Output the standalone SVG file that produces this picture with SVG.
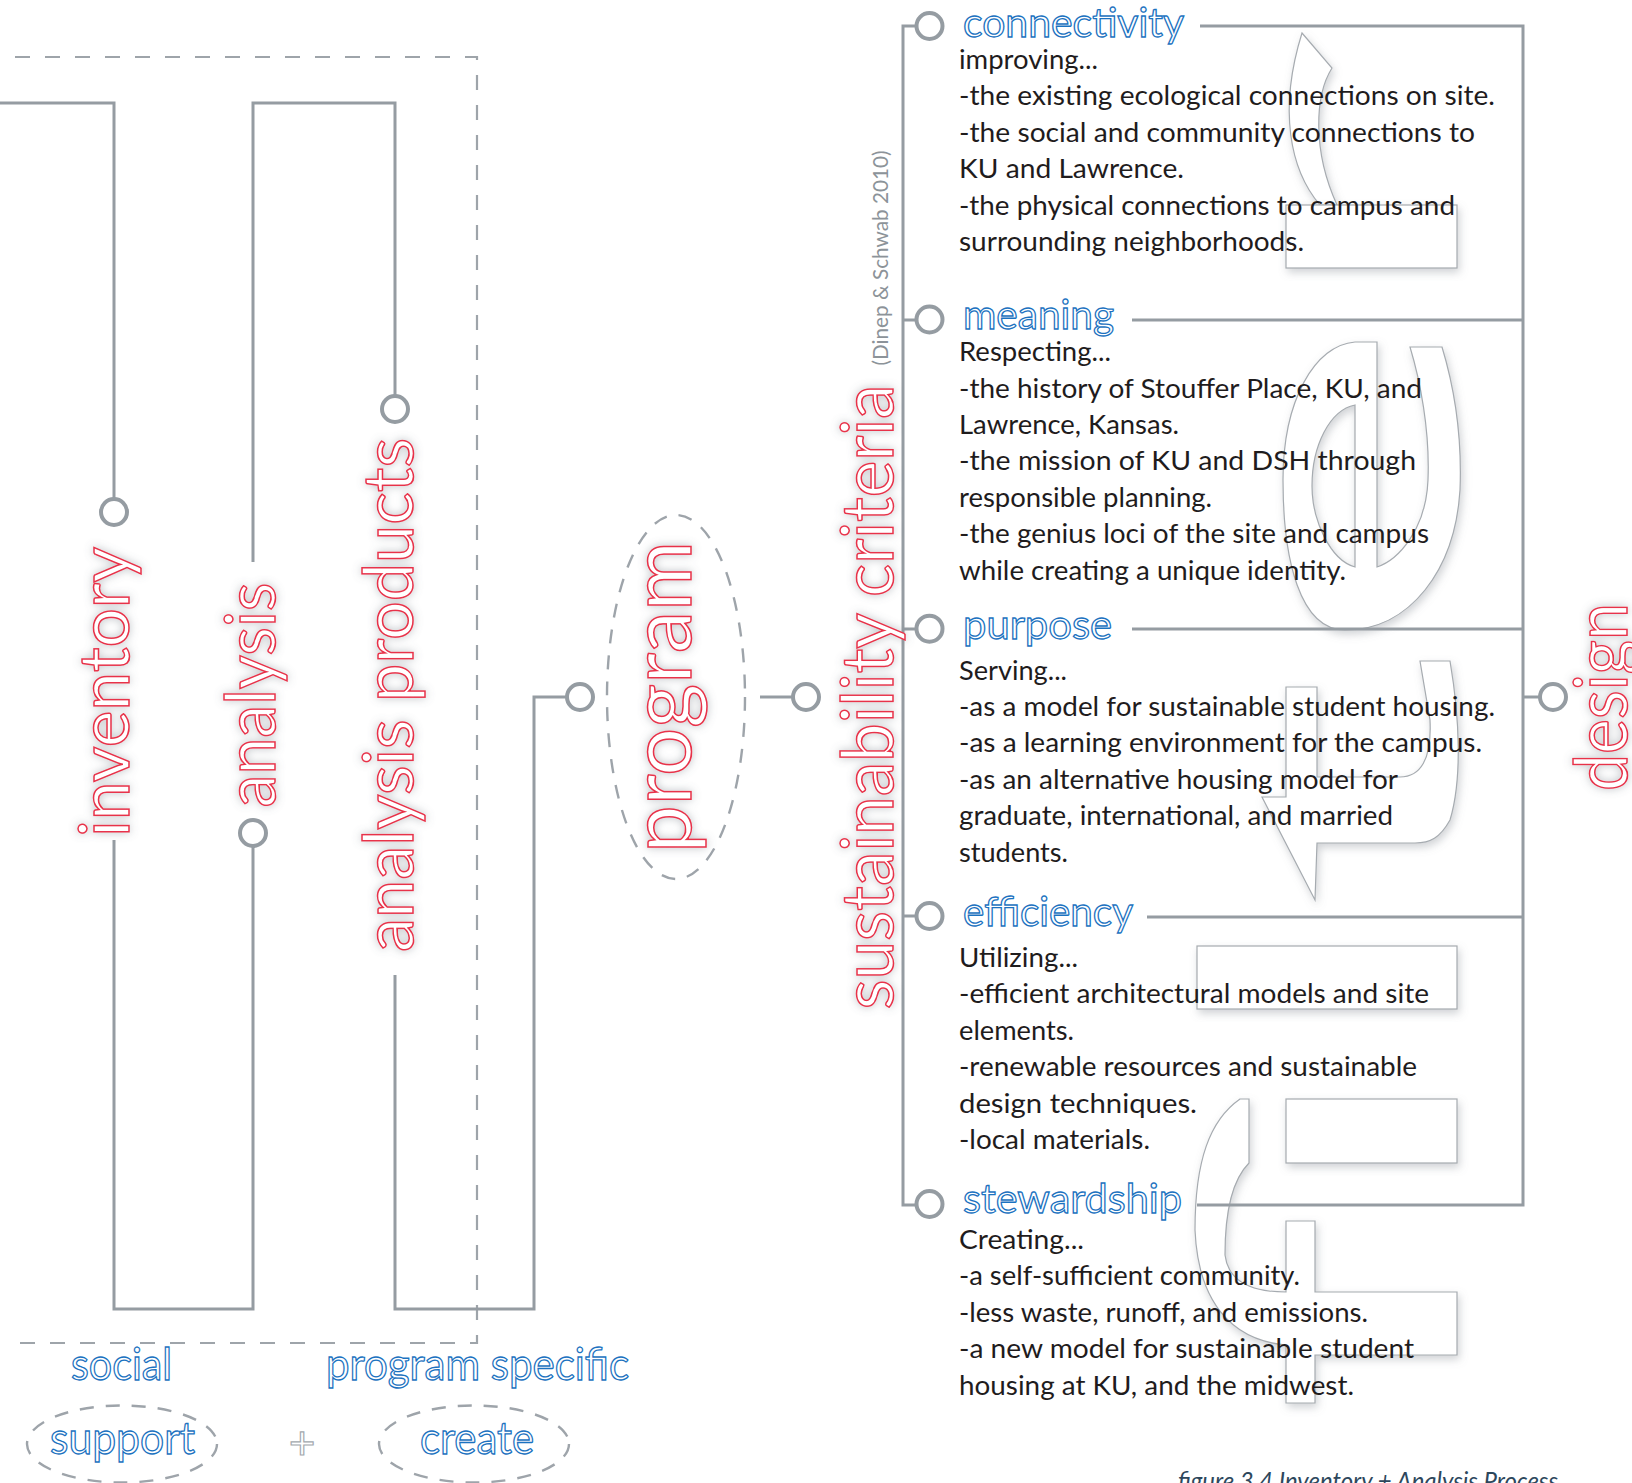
<svg xmlns="http://www.w3.org/2000/svg" width="1632" height="1483" viewBox="0 0 1632 1483">
<defs>
<filter id="glow" x="-30%" y="-30%" width="160%" height="160%">
<feDropShadow dx="0" dy="0" stdDeviation="5" flood-color="#6f7780" flood-opacity="0.45"/>
</filter>
<filter id="shadow" x="-20%" y="-20%" width="140%" height="140%">
<feDropShadow dx="2" dy="4" stdDeviation="4" flood-color="#7a8088" flood-opacity="0.35"/>
</filter>
<style>
.ln{fill:none;stroke:#959ca2;stroke-width:3}
.dash{fill:none;stroke:#9ea4aa;stroke-width:2.2;stroke-dasharray:15 15}
.dell{fill:none;stroke:#9ea4aa;stroke-width:2.4;stroke-dasharray:14 12}
.term{fill:#fff;stroke:#959ca2;stroke-width:4}
.red{font-family:Lato,"Open Sans",sans-serif;fill:#fff;stroke:#e8324a;stroke-width:1.5;filter:url(#glow)}
.blue{font-family:Lato,"Open Sans",sans-serif;fill:#fff;stroke:#1b72c0;stroke-width:1.3}
.body{font-family:Lato,"Open Sans",sans-serif;font-size:26.5px;fill:#1f1c1d}
.deco{fill:#fff;stroke:#a6abb0;stroke-width:1.2;filter:url(#shadow)}
.cite{font-family:Lato,"Open Sans",sans-serif;font-size:21px;fill:#8c9399}
.cap{font-family:Lato,"Open Sans",sans-serif;font-size:26px;font-style:italic;fill:#2d475c}
</style>
</defs>
<rect width="1632" height="1483" fill="#fff"/>

<g id="decoration">
<path class="deco" d="M1302,33 L1332,68 C1315,95 1312,150 1337,205 L1320,205 C1290,170 1278,110 1302,33 Z"/>
<rect class="deco" x="1286" y="205" width="171" height="63"/>
<path class="deco" fill-rule="evenodd" d="M1355,342 L1377,342 L1377,567 C1398,560 1426,530 1428,480 C1430,430 1420,380 1410,347 L1442,347 C1455,390 1462,440 1460,490 C1455,570 1410,630 1345,630 C1300,630 1283,560 1283,480 C1283,400 1315,345 1355,342 Z M1355,405 L1355,567 C1330,560 1312,520 1312,486 C1312,445 1330,410 1355,405 Z"/>
<path class="deco" d="M1286,687 L1317,687 L1317,777 L1400,777 C1420,777 1432,760 1430,720 L1420,661 L1450,661 C1460,720 1462,780 1450,820 C1440,838 1430,843 1415,843 L1317,843 L1315,900 L1262,797 L1286,797 Z"/>
<rect class="deco" x="1197" y="946" width="260" height="63"/>
<rect class="deco" x="1286" y="1099" width="171" height="64"/>
<path class="deco" d="M1240,1099 L1249,1099 L1249,1163 C1232,1180 1225,1210 1225,1255 C1228,1280 1250,1292 1286,1292 L1286,1221 L1315,1221 L1315,1292 L1457,1292 L1457,1355 L1315,1355 L1315,1403 L1286,1403 L1286,1345 C1230,1340 1198,1300 1195,1230 C1195,1160 1210,1120 1240,1099 Z"/>
</g>

<g id="connectors">
<path class="dash" d="M15,57 H477 V1343 H15"/>
<path class="ln" d="M0,103 H114 V498"/>
<path class="ln" d="M114,840 V1309 H253 V847"/>
<path class="ln" d="M253,562 V103 H395 V395"/>
<path class="ln" d="M395,975 V1309 H534 V697 H566"/>
<path class="ln" d="M760,697 H792"/>
<path class="ln" d="M916,26 H903 V1205 H916"/>
<path class="ln" d="M903,320 H916 M903,629 H916 M903,916 H916"/>
<path class="ln" d="M1200,26 H1523 V1205 H1197"/>
<path class="ln" d="M1132,320 H1523 M1132,629 H1523 M1147,917 H1523"/>
<path class="ln" d="M1523,697 H1539"/>
</g>

<g id="node-inventory">
<circle class="term" cx="114" cy="512" r="13"/>
<text class="red" font-size="70" text-anchor="middle" textLength="290" lengthAdjust="spacingAndGlyphs" transform="translate(129,692) rotate(-90)">inventory</text>
</g>
<g id="node-analysis">
<circle class="term" cx="253" cy="833" r="13"/>
<text class="red" font-size="70" text-anchor="middle" textLength="225" lengthAdjust="spacingAndGlyphs" transform="translate(275,695) rotate(-90)">analysis</text>
</g>
<g id="node-analysis-products">
<circle class="term" cx="395" cy="409" r="13"/>
<text class="red" font-size="70" text-anchor="middle" textLength="514" lengthAdjust="spacingAndGlyphs" transform="translate(413,695) rotate(-90)">analysis products</text>
</g>
<g id="node-program">
<circle class="term" cx="580" cy="697" r="13"/>
<ellipse class="dell" cx="676" cy="697" rx="69" ry="182"/>
<text class="red" font-size="85" text-anchor="middle" textLength="312" lengthAdjust="spacingAndGlyphs" transform="translate(691,697) rotate(-90)">program</text>
</g>
<g id="node-sustainability">
<circle class="term" cx="806" cy="697" r="13"/>
<text class="red" font-size="72" text-anchor="middle" textLength="625" lengthAdjust="spacingAndGlyphs" transform="translate(893,697) rotate(-90)">sustainability criteria</text>
<text class="cite" text-anchor="middle" textLength="215" lengthAdjust="spacingAndGlyphs" transform="translate(888,258) rotate(-90)">(Dinep &amp; Schwab 2010)</text>
</g>
<g id="node-design">
<circle class="term" cx="1553" cy="697" r="13"/>
<text class="red" font-size="73" text-anchor="middle" textLength="188" lengthAdjust="spacingAndGlyphs" transform="translate(1627,697) rotate(-90)">design</text>
</g>

<g id="node-connectivity">
<circle class="term" cx="929.5" cy="26" r="13"/>
<text class="blue" x="963" y="37" font-size="40" textLength="221" lengthAdjust="spacingAndGlyphs">connectivity</text>
<text class="body" x="959" y="69" textLength="139" lengthAdjust="spacingAndGlyphs">improving...</text>
<text class="body" x="959" y="105.4" textLength="536" lengthAdjust="spacingAndGlyphs">-the existing ecological connections on site.</text>
<text class="body" x="959" y="141.8" textLength="516" lengthAdjust="spacingAndGlyphs">-the social and community connections to</text>
<text class="body" x="959" y="178.2" textLength="225" lengthAdjust="spacingAndGlyphs">KU and Lawrence.</text>
<text class="body" x="959" y="214.6" textLength="496" lengthAdjust="spacingAndGlyphs">-the physical connections to campus and</text>
<text class="body" x="959" y="251" textLength="345" lengthAdjust="spacingAndGlyphs">surrounding neighborhoods.</text>
</g>
<g id="node-meaning">
<circle class="term" cx="929.5" cy="319.5" r="13"/>
<text class="blue" x="963" y="329" font-size="41" textLength="151" lengthAdjust="spacingAndGlyphs">meaning</text>
<text class="body" x="959" y="361.2" textLength="152" lengthAdjust="spacingAndGlyphs">Respecting...</text>
<text class="body" x="959" y="397.6" textLength="463" lengthAdjust="spacingAndGlyphs">-the history of Stouffer Place, KU, and</text>
<text class="body" x="959" y="434" textLength="220" lengthAdjust="spacingAndGlyphs">Lawrence, Kansas.</text>
<text class="body" x="959" y="470.4" textLength="457" lengthAdjust="spacingAndGlyphs">-the mission of KU and DSH through</text>
<text class="body" x="959" y="506.8" textLength="253" lengthAdjust="spacingAndGlyphs">responsible planning.</text>
<text class="body" x="959" y="543.2" textLength="470" lengthAdjust="spacingAndGlyphs">-the genius loci of the site and campus</text>
<text class="body" x="959" y="579.6" textLength="387" lengthAdjust="spacingAndGlyphs">while creating a unique identity.</text>
</g>
<g id="node-purpose">
<circle class="term" cx="929.5" cy="628.7" r="13"/>
<text class="blue" x="963" y="639" font-size="41" textLength="149" lengthAdjust="spacingAndGlyphs">purpose</text>
<text class="body" x="959" y="679.6" textLength="108" lengthAdjust="spacingAndGlyphs">Serving...</text>
<text class="body" x="959" y="716" textLength="536" lengthAdjust="spacingAndGlyphs">-as a model for sustainable student housing.</text>
<text class="body" x="959" y="752.4" textLength="523" lengthAdjust="spacingAndGlyphs">-as a learning environment for the campus.</text>
<text class="body" x="959" y="788.8" textLength="439" lengthAdjust="spacingAndGlyphs">-as an alternative housing model for</text>
<text class="body" x="959" y="825.2" textLength="434" lengthAdjust="spacingAndGlyphs">graduate, international, and married</text>
<text class="body" x="959" y="861.6" textLength="109" lengthAdjust="spacingAndGlyphs">students.</text>
</g>
<g id="node-efficiency">
<circle class="term" cx="929.5" cy="916" r="13"/>
<text class="blue" x="963" y="926" font-size="41" textLength="170" lengthAdjust="spacingAndGlyphs">efficiency</text>
<text class="body" x="959" y="966.9" textLength="119" lengthAdjust="spacingAndGlyphs">Utilizing...</text>
<text class="body" x="959" y="1003.3" textLength="470" lengthAdjust="spacingAndGlyphs">-efficient architectural models and site</text>
<text class="body" x="959" y="1039.7" textLength="115" lengthAdjust="spacingAndGlyphs">elements.</text>
<text class="body" x="959" y="1076.1" textLength="458" lengthAdjust="spacingAndGlyphs">-renewable resources and sustainable</text>
<text class="body" x="959" y="1112.5" textLength="238" lengthAdjust="spacingAndGlyphs">design techniques.</text>
<text class="body" x="959" y="1148.9" textLength="191" lengthAdjust="spacingAndGlyphs">-local materials.</text>
</g>
<g id="node-stewardship">
<circle class="term" cx="929.5" cy="1204" r="13"/>
<text class="blue" x="963" y="1213" font-size="41" textLength="219" lengthAdjust="spacingAndGlyphs">stewardship</text>
<text class="body" x="959" y="1249" textLength="125" lengthAdjust="spacingAndGlyphs">Creating...</text>
<text class="body" x="959" y="1285.4" textLength="341" lengthAdjust="spacingAndGlyphs">-a self-sufficient community.</text>
<text class="body" x="959" y="1321.8" textLength="409" lengthAdjust="spacingAndGlyphs">-less waste, runoff, and emissions.</text>
<text class="body" x="959" y="1358.2" textLength="455" lengthAdjust="spacingAndGlyphs">-a new model for sustainable student</text>
<text class="body" x="959" y="1394.6" textLength="395" lengthAdjust="spacingAndGlyphs">housing at KU, and the midwest.</text>
</g>

<g id="node-social">
<text class="blue" x="71" y="1380" font-size="44" textLength="101" lengthAdjust="spacingAndGlyphs">social</text>
</g>
<g id="node-program-specific">
<text class="blue" x="326" y="1380" font-size="44" textLength="303" lengthAdjust="spacingAndGlyphs">program specific</text>
</g>
<g id="node-support">
<ellipse class="dell" cx="122" cy="1444" rx="95" ry="38.5"/>
<text class="blue" x="50" y="1454" font-size="44" textLength="145" lengthAdjust="spacingAndGlyphs">support</text>
</g>
<g id="node-plus">
<text x="302" y="1459" font-family="Lato, sans-serif" font-size="46" text-anchor="middle" fill="#fff" stroke="#a3a9ae" stroke-width="1.2">+</text>
</g>
<g id="node-create">
<ellipse class="dell" cx="474" cy="1444" rx="95" ry="38.5"/>
<text class="blue" x="420" y="1454" font-size="44" textLength="114" lengthAdjust="spacingAndGlyphs">create</text>
</g>
<g id="caption">
<text class="cap" x="1178" y="1490" textLength="380" lengthAdjust="spacingAndGlyphs">figure 3.4 Inventory + Analysis Process</text>
</g>
</svg>
